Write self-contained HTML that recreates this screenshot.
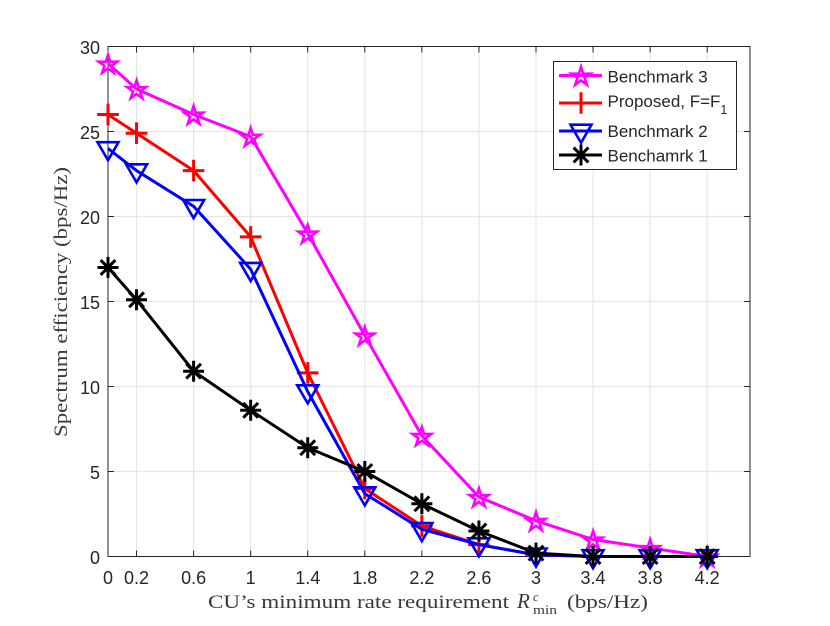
<!DOCTYPE html>
<html>
<head>
<meta charset="utf-8">
<style>
html,body{margin:0;padding:0;background:#fff;}
svg{display:block;}
text{font-family:"Liberation Sans",sans-serif;fill:#262626;}
.serif{font-family:"Liberation Serif",serif;fill:#383838;}
</style>
</head>
<body>
<svg id="chart" width="830" height="626" viewBox="0 0 830 626" xmlns="http://www.w3.org/2000/svg">
  <rect x="0" y="0" width="830" height="626" fill="#fff"/>
  <g id="grid"></g>
  <g id="axes"></g>
  <g id="series"></g>
  <text class="serif" y="608" font-size="19"><tspan x="208" textLength="301" lengthAdjust="spacingAndGlyphs">CU’s minimum rate requirement</tspan><tspan x="517" font-size="21" font-style="italic">R</tspan><tspan x="533" y="601" font-size="12.5" font-style="italic">c</tspan><tspan x="533" y="614" font-size="13" textLength="24" lengthAdjust="spacingAndGlyphs">min</tspan><tspan x="567" y="608" textLength="81" lengthAdjust="spacingAndGlyphs">(bps/Hz)</tspan></text>
  <text class="serif" transform="translate(67,437) rotate(-90)" x="0" y="0" font-size="19" textLength="270" lengthAdjust="spacingAndGlyphs">Spectrum efficiency (bps/Hz)</text>
  <g id="legend">
    <rect x="553.5" y="61.5" width="183" height="108" fill="#fff" stroke="#262626" stroke-width="1"/>
    <g id="legend-keys"></g>
    <text x="607.5" y="82.5" font-size="17">Benchmark 3</text>
    <text x="607.5" y="107" font-size="17">Proposed, F=F<tspan font-size="12.5" dy="7">1</tspan></text>
    <text x="607.5" y="137" font-size="17">Benchmark 2</text>
    <text x="607.5" y="161.5" font-size="17">Benchamrk 1</text>
  </g>
</svg>
<script>
const categories = [0, 0.2, 0.6, 1, 1.4, 1.8, 2.2, 2.6, 3, 3.4, 3.8, 4.2];
const xTickLabels = ['0', '0.2', '0.6', '1', '1.4', '1.8', '2.2', '2.6', '3', '3.4', '3.8', '4.2'];
const yTicks = [0, 5, 10, 15, 20, 25, 30];
const benchmark3 = [29, 27.5, 26, 24.7, 19, 13, 7.1, 3.5, 2.1, 1, 0.5, 0];
const proposed = [26, 24.9, 22.7, 18.8, 10.8, 4, 1.8, 0.7, 0.1, 0, 0, 0];
const benchmark2 = [24, 22.7, 20.6, 16.9, 9.7, 3.7, 1.6, 0.7, 0.1, 0, 0, 0];
const benchmark1 = [17, 15.1, 10.9, 8.6, 6.4, 5, 3.1, 1.5, 0.2, 0, 0, 0];

const NS = 'http://www.w3.org/2000/svg';
const L = 108, R = 750, T = 46.5, B = 556.5, XMAX = 4.5, YMAX = 30;
const xs = v => L + v / XMAX * (R - L);
const ys = v => B - v / YMAX * (B - T);

function mk(parent, tag, attrs, text) {
  const el = document.createElementNS(NS, tag);
  for (const k in attrs) el.setAttribute(k, attrs[k]);
  if (text !== undefined) el.textContent = text;
  parent.appendChild(el);
  return el;
}

function starPoints(cx, cy) {
  const pts = [];
  for (let i = 0; i < 10; i++) {
    const r = i % 2 ? 3.7 : 9.8;
    const a = -Math.PI / 2 + i * Math.PI / 5;
    pts.push((cx + r * Math.cos(a)).toFixed(2) + ',' + (cy + 1.2 + r * Math.sin(a)).toFixed(2));
  }
  return pts.join(' ');
}

function drawMarker(parent, kind, cx, cy, color) {
  if (kind === 'star') {
    return mk(parent, 'polygon', {points: starPoints(cx, cy), fill: 'none', stroke: color, 'stroke-width': 2.6, 'stroke-miterlimit': 6});
  }
  if (kind === 'triangle') {
    const p = [(cx - 10.5) + ',' + (cy - 6.3), (cx + 10.5) + ',' + (cy - 6.3), cx + ',' + (cy + 11.8)].join(' ');
    return mk(parent, 'polygon', {points: p, fill: 'none', stroke: color, 'stroke-width': 2.6});
  }
  const g = mk(parent, 'path', {fill: 'none', stroke: color, 'stroke-width': 3, d: ''});
  if (kind === 'plus') {
    g.setAttribute('d', `M${cx - 10.8} ${cy}H${cx + 10.8}M${cx} ${cy - 10.8}V${cy + 10.8}`);
  } else {
    const d = 7.4;
    g.setAttribute('d', `M${cx - 10.5} ${cy}H${cx + 10.5}M${cx} ${cy - 10.5}V${cy + 10.5}M${cx - d} ${cy - d}L${cx + d} ${cy + d}M${cx - d} ${cy + d}L${cx + d} ${cy - d}`);
  }
  return g;
}

const gridG = document.getElementById('grid');
const axesG = document.getElementById('axes');
const seriesG = document.getElementById('series');
const keysG = document.getElementById('legend-keys');

categories.forEach((c, i) => {
  if (c !== 0) {
    const gl = mk(gridG, 'line', {x1: xs(c), x2: xs(c), y1: T, y2: B, stroke: '#e6e6e6', 'stroke-width': 1.2});
    
    
  }
  const tk = mk(axesG, 'line', {x1: xs(c), x2: xs(c), y1: B, y2: B - 6, stroke: '#262626', 'stroke-width': 1});
  
  
  const tt = mk(axesG, 'line', {x1: xs(c), x2: xs(c), y1: T, y2: T + 6, stroke: '#262626', 'stroke-width': 1});
  
  
  const lb = mk(axesG, 'text', {x: xs(c), y: 584, 'font-size': 18, 'text-anchor': 'middle'}, xTickLabels[i]);
  
  
});

yTicks.forEach(v => {
  if (v !== 0 && v !== YMAX) {
    const gl = mk(gridG, 'line', {x1: L, x2: R, y1: ys(v), y2: ys(v), stroke: '#e6e6e6', 'stroke-width': 1.2});
    
    
  }
  const tk = mk(axesG, 'line', {x1: L, x2: L + 6, y1: ys(v), y2: ys(v), stroke: '#262626', 'stroke-width': 1});
  
  
  const tr = mk(axesG, 'line', {x1: R, x2: R - 6, y1: ys(v), y2: ys(v), stroke: '#262626', 'stroke-width': 1});
  
  
  const lb = mk(axesG, 'text', {x: L - 8, y: ys(v) + 7.5, 'font-size': 18, 'text-anchor': 'end'}, String(v));
  
  
});

const frame = mk(axesG, 'rect', {x: L, y: T, width: R - L, height: B - T, fill: 'none', stroke: '#262626', 'stroke-width': 1});



function drawSeries(name, values, color, kind) {
  const g = mk(seriesG, 'g', {});
  
  
  const pts = values.map((v, i) => xs(categories[i]).toFixed(2) + ',' + ys(v).toFixed(2)).join(' ');
  const line = mk(g, 'polyline', {points: pts, fill: 'none', stroke: color, 'stroke-width': 3, 'stroke-linejoin': 'round'});
  
  
  values.forEach((v, i) => {
    const m = drawMarker(g, kind, xs(categories[i]), ys(v), color);
    
    
  });
}

drawSeries('benchmark-3', benchmark3, '#ff00ff', 'star');
drawSeries('proposed', proposed, '#ff0000', 'plus');
drawSeries('benchmark-2', benchmark2, '#0000ff', 'triangle');
drawSeries('benchmark-1', benchmark1, '#000000', 'asterisk');

function legendKey(name, cy, color, kind) {
  const l = mk(keysG, 'line', {x1: 559, x2: 602, y1: cy, y2: cy, stroke: color, 'stroke-width': 3});
  
  
  const m = drawMarker(keysG, kind, 581, cy, color);
  
  
}
legendKey('benchmark-3', 75.5, '#ff00ff', 'star');
legendKey('proposed', 103, '#ff0000', 'plus');
legendKey('benchmark-2', 131, '#0000ff', 'triangle');
legendKey('benchmark-1', 155, '#000000', 'asterisk');
</script>
</body>
</html>
